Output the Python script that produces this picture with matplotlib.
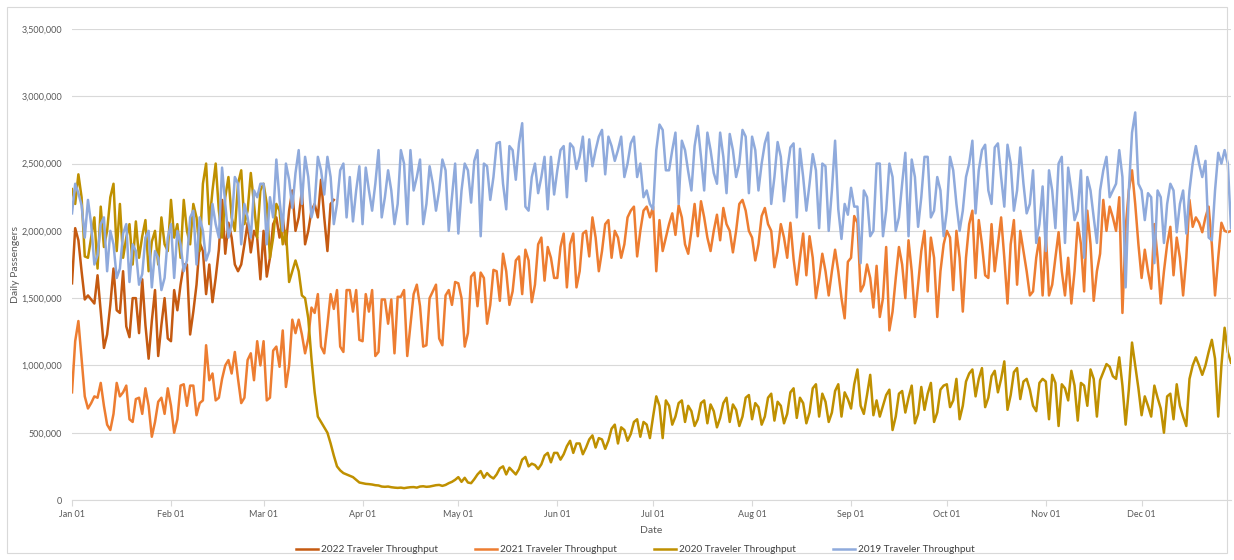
import matplotlib
matplotlib.use("Agg")
import matplotlib.pyplot as plt
import numpy as np
from matplotlib.patches import Rectangle
from matplotlib.ticker import FuncFormatter

plt.rcParams["font.family"] = ["Lato", "DejaVu Sans"]

# daily passengers, thousands; one row per month (leap-year day layout)
t2019 = [
    2130, 2350, 2280, 2190, 1950, 2230, 2050, 1750, 1820, 2050, 2100, 1700, 2000, 1900, 1650, 1720, 1980, 2050, 1620, 1900, 1850, 1600, 1680, 1950, 2000, 1580, 1850, 1800, 1560, 1650, 1950,
    2050, 1650, 2000, 1900, 1700, 1780, 2100, 2150, 1750, 2100, 2000, 1780, 1850, 2200, 2050, 1950, 2470, 2200, 1950, 2050, 2400, 2350, 1900, 2200, 2100, 1950, 2300, 2250, 2350,
    2350, 1900, 2250, 2100, 2530, 2230, 2000, 2500, 2380, 2170, 2430, 2600, 2200, 2550, 2400, 2100, 2200, 2550, 2450, 2270, 2550, 2400, 2050, 2200, 2450, 2500, 2100, 2400, 2070, 2300, 2480,
    2050, 2470, 2300, 2150, 2350, 2600, 2100, 2250, 2450, 2300, 2050, 2200, 2600, 2500, 2050, 2600, 2300, 2400, 2530, 2050, 2200, 2480, 2350, 2150, 2300, 2530, 2450, 2000, 2250, 2500,
    1980, 2300, 2500, 2450, 2210, 2520, 2600, 1960, 2500, 2480, 2230, 2400, 2650, 2660, 2350, 2160, 2630, 2600, 2380, 2650, 2800, 2180, 2150, 2400, 2500, 2280, 2400, 2550, 2160, 2550, 2270,
    2450, 2600, 2630, 2250, 2650, 2620, 2460, 2550, 2700, 2370, 2680, 2480, 2600, 2700, 2750, 2420, 2700, 2630, 2520, 2600, 2700, 2400, 2500, 2650, 2700, 2400, 2500, 2250, 2300, 2200,
    2160, 2600, 2790, 2750, 2450, 2450, 2600, 2730, 2200, 2670, 2600, 2440, 2300, 2630, 2780, 2550, 2300, 2730, 2600, 2430, 2350, 2730, 2550, 2280, 2720, 2600, 2400, 2500, 2750, 2700, 2280,
    2700, 2600, 2300, 2500, 2650, 2730, 2200, 2400, 2660, 2550, 2220, 2450, 2620, 2650, 2100, 2610, 2400, 2150, 2350, 2570, 2450, 2020, 2500, 2480, 2000, 2300, 2670, 2160, 1940, 2200, 2120,
    2320, 2180, 2180, 1760, 2300, 2250, 1960, 2000, 2500, 2500, 1960, 2150, 2500, 2400, 2000, 2100, 2350, 2580, 1960, 2530, 2400, 2030, 2250, 2550, 2550, 2100, 2150, 2400, 2300, 1960,
    2150, 2550, 2450, 2200, 2000, 2150, 2400, 2500, 2670, 2130, 2450, 2600, 2640, 2300, 2200, 2620, 2650, 2400, 2180, 2640, 2500, 2150, 2300, 2620, 2350, 2130, 2200, 2450, 1910, 2050, 2330,
    1850, 2450, 2300, 2020, 2500, 2550, 1910, 2470, 2300, 2080, 2150, 2450, 1800, 2400, 2300, 2100, 1910, 2300, 2450, 2550, 2250, 2300, 2350, 2600, 2400, 1580, 2300, 2730, 2880, 2350,
    2300, 2080, 2280, 2250, 1760, 2300, 2250, 1910, 2200, 2350, 2300, 1990, 2200, 2300, 1980, 2300, 2500, 2630, 2500, 2400, 2520, 1950, 1930, 2300, 2580, 2500, 2600, 2500, 2020,
]

t2020 = [
    2310, 2200, 2420, 2250, 1810, 1800, 1950, 2100, 1720, 2180, 1880, 2000, 2250, 2350, 1850, 2200, 1800, 1950, 2050, 1750, 2070, 1800, 1960, 2080, 1700, 1920, 2000, 1750, 2100, 1900, 1850,
    2230, 1950, 2050, 1800, 2230, 2000, 1900, 2200, 2100, 1850, 2350, 2500, 2050, 2300, 2500, 2150, 1950, 2250, 2400, 2100, 2000, 2350, 2450, 2050, 2150, 2430, 2200, 1950, 2300,
    2350, 2200, 1800, 1950, 2200, 2150, 1900, 2000, 1620, 1700, 1780, 1700, 1520, 1500, 1350, 1050, 800, 620, 580, 540, 500, 420, 330, 250, 220, 200, 190, 180, 170, 150, 130,
    125, 120, 118, 115, 110, 108, 100, 98, 100, 95, 92, 90, 92, 88, 92, 95, 96, 92, 100, 102, 98, 100, 105, 110, 112, 105, 112, 125, 135, 150,
    170, 135, 165, 130, 125, 155, 190, 215, 165, 200, 175, 160, 190, 235, 250, 190, 240, 215, 190, 230, 300, 320, 250, 270, 260, 230, 265, 330, 350, 280, 350,
    350, 300, 340, 400, 440, 350, 420, 420, 340, 390, 450, 480, 390, 460, 450, 380, 440, 530, 560, 420, 540, 520, 440, 490, 580, 600, 470, 580, 560, 460,
    620, 770, 700, 460, 740, 700, 560, 620, 720, 740, 580, 700, 660, 550, 600, 720, 740, 570, 710, 660, 540, 610, 720, 760, 580, 710, 670, 550, 620, 760, 780,
    600, 720, 690, 560, 620, 760, 790, 590, 730, 700, 570, 640, 800, 830, 610, 760, 720, 570, 650, 830, 860, 620, 790, 730, 580, 650, 810, 860, 620, 800, 750,
    680, 860, 970, 700, 640, 780, 930, 630, 740, 620, 700, 780, 820, 520, 620, 790, 810, 650, 760, 850, 570, 640, 840, 670, 790, 870, 580, 650, 820, 850,
    860, 690, 740, 900, 600, 700, 880, 940, 970, 770, 900, 980, 690, 760, 920, 960, 800, 900, 1030, 670, 780, 950, 980, 750, 880, 900, 820, 700, 660, 870, 900,
    880, 600, 930, 870, 550, 860, 830, 740, 960, 850, 590, 870, 850, 700, 970, 900, 620, 890, 950, 1010, 990, 920, 900, 1060, 850, 560, 820, 1170, 1000, 830,
    630, 770, 700, 620, 850, 760, 680, 500, 770, 790, 600, 860, 700, 620, 550, 900, 1000, 1060, 1000, 930, 1000, 1100, 1190, 1050, 620, 1000, 1280, 1100, 1020,
]

t2021 = [
    800, 1180, 1330, 1050, 770, 680, 720, 770, 760, 870, 700, 560, 520, 640, 870, 770, 800, 850, 600, 580, 750, 760, 640, 830, 700, 470, 580, 730, 760, 640, 830,
    700, 500, 600, 850, 860, 700, 850, 850, 630, 720, 740, 1150, 890, 940, 740, 760, 900, 1000, 1040, 940, 1100, 900, 720, 760, 1040, 1090, 890, 1180, 1000,
    1180, 740, 760, 1110, 1140, 990, 1260, 840, 1000, 1340, 1240, 1340, 1230, 1090, 1200, 1430, 1390, 1530, 1140, 1090, 1300, 1530, 1420, 1560, 1140, 1100, 1560, 1560, 1400, 1560, 1190,
    1180, 1530, 1400, 1560, 1070, 1100, 1490, 1490, 1310, 1490, 1090, 1510, 1510, 1560, 1070, 1300, 1530, 1600, 1440, 1140, 1150, 1500, 1550, 1600, 1200, 1150, 1520, 1560, 1450, 1620,
    1610, 1500, 1140, 1240, 1660, 1690, 1440, 1690, 1650, 1310, 1450, 1710, 1700, 1480, 1830, 1700, 1450, 1550, 1780, 1810, 1530, 1860, 1780, 1470, 1600, 1900, 1950, 1630, 1880, 1800, 1650,
    1650, 1880, 1980, 1580, 1900, 1980, 1580, 1700, 1980, 2000, 1810, 2100, 1950, 1700, 1850, 2050, 2080, 1800, 2000, 1950, 1800, 1900, 2100, 2150, 2180, 1810, 2000, 2150, 2180, 2100,
    2180, 1700, 2080, 1850, 1950, 2050, 2130, 1970, 2190, 2100, 1900, 1830, 2000, 2200, 1960, 2220, 2100, 1950, 1850, 2000, 2120, 1930, 2170, 2050, 2000, 1840, 2000, 2200, 2230, 2150, 2000,
    1950, 1780, 1900, 2110, 2170, 2050, 2000, 1730, 1850, 2050, 1950, 1800, 2060, 1790, 1600, 1800, 1980, 1670, 1960, 1800, 1500, 1650, 1830, 1700, 1520, 1700, 1860, 1700, 1500, 1350, 1770,
    1800, 2110, 2060, 1550, 1600, 1750, 1650, 1430, 1740, 1360, 1500, 1880, 1260, 1400, 1650, 1880, 1750, 1500, 1930, 1700, 1360, 1600, 1850, 2000, 1550, 1950, 1800, 1360, 1700, 1900,
    2000, 1950, 1560, 2000, 1800, 1400, 1800, 2050, 2150, 1650, 2080, 1900, 1670, 1650, 2050, 1700, 1900, 2100, 1800, 1460, 1900, 2080, 1600, 2000, 1850, 1700, 1520, 1550, 1800, 1950, 1520,
    1980, 1520, 1600, 1800, 1990, 1700, 1520, 1800, 1460, 1700, 2060, 1900, 1550, 2150, 1900, 1480, 1700, 1830, 2230, 2000, 2180, 2100, 2000, 2250, 1390, 2020, 2300, 2450, 2200, 1900,
    1650, 1860, 1700, 1570, 2050, 1800, 1460, 1700, 1900, 2030, 1670, 1950, 1800, 1520, 1800, 2230, 2030, 2100, 2060, 1990, 2100, 2180, 1900, 1520, 1800, 2060, 2000, 1990, 2000,
]

t2022 = [
    1610, 2020, 1930, 1700, 1490, 1520, 1490, 1460, 1670, 1400, 1130, 1230, 1450, 1720, 1410, 1390, 1700, 1290, 1210, 1500, 1500, 1240, 1640, 1300, 1050, 1330, 1560, 1070, 1300, 1500, 1200,
    1180, 1560, 1410, 1600, 1750, 1750, 1230, 1400, 1600, 1910, 1850, 1530, 1750, 1470, 1650, 1860, 2230, 1830, 2060, 1950, 1750, 1700, 1750, 1900, 2060, 1840, 2000, 1950, 1640,
    2000, 1660, 1800, 2050, 2100, 1950, 2100, 1900, 2150, 2300, 2000, 2100, 2300, 1900, 2000, 2150, 2200, 2100, 2380, 2100, 1850, 2200, 2230,
]

series_names = ["2022 Traveler Throughput", "2021 Traveler Throughput",
                "2020 Traveler Throughput", "2019 Traveler Throughput"]
series_colors = ["#C55A11", "#ED7D31", "#BF9000", "#8FAADC"]

month_labels = ["Jan 01", "Feb 01", "Mar 01", "Apr 01", "May 01", "Jun 01",
                "Jul 01", "Aug 01", "Sep 01", "Oct 01", "Nov 01", "Dec 01"]
month_days = [31, 29, 31, 30, 31, 30, 31, 31, 30, 31, 30, 31]

grey = "#595959"

fig = plt.figure(figsize=(12.34, 5.6), dpi=100)
fig.patches.append(Rectangle((7 / 1234, 7 / 560), 1 - 14 / 1234, 1 - 14 / 560,
                             transform=fig.transFigure, fill=False,
                             edgecolor="#D9D9D9", linewidth=0.8))
ax = fig.add_axes([72 / 1234, 60 / 560, (1231 - 72) / 1234, (500 - 29) / 560])

for data, name, col in zip([t2022, t2021, t2020, t2019], series_names, series_colors):
    y = np.array(data) * 1000
    ax.plot(np.arange(len(y)), y, color=col, lw=1.8, label=name,
            solid_joinstyle="round")

ticks = np.concatenate([[0], np.cumsum(month_days)[:-1]])
ax.set_xticks(ticks)
ax.set_xticklabels(month_labels)
ax.set_xlim(0, 363)
ax.set_ylim(0, 3500000)
ax.set_yticks(np.arange(0, 3500001, 500000))
ax.yaxis.set_major_formatter(FuncFormatter(lambda v, p: f"{int(v):,}"))

ax.grid(axis="y", color="#D9D9D9", lw=0.8)
ax.set_axisbelow(True)
for s in ["top", "right", "left"]:
    ax.spines[s].set_visible(False)
ax.spines["bottom"].set_color("#D9D9D9")
ax.tick_params(axis="y", length=0, labelsize=6.5, labelcolor=grey, pad=7)
ax.tick_params(axis="x", length=4, color="#D9D9D9", labelsize=6.5,
               labelcolor=grey, pad=3)

ax.set_xlabel("Date", fontsize=7.5, color=grey, labelpad=5)
ax.set_ylabel("Daily Passengers", fontsize=7.5, color=grey, labelpad=1)

fig.legend(loc="lower center", bbox_to_anchor=(0.515, -0.006), ncol=4,
           frameon=False, fontsize=7.2, labelcolor="#404040", handlelength=2.2,
           handletextpad=0.3, columnspacing=3.7)

fig.savefig("out.png", dpi=100)
